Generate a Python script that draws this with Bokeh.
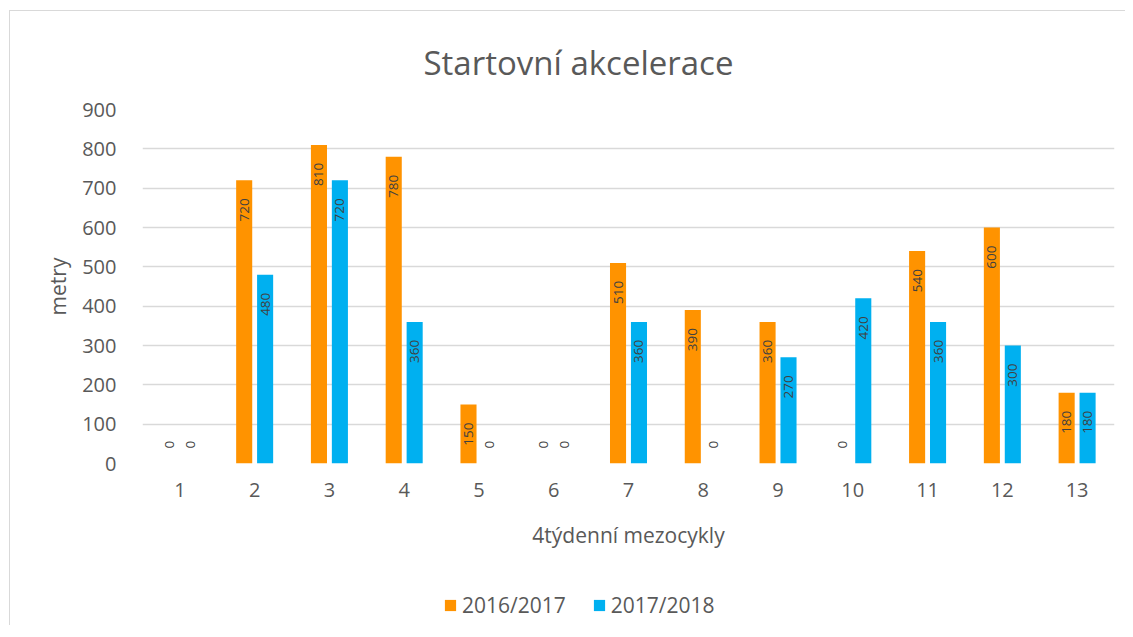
import math
from bokeh.plotting import figure
from bokeh.layouts import column
from bokeh.models import FactorRange, ColumnDataSource, Legend, LegendItem, FixedTicker, Range1d
from bokeh.transform import dodge
from bokeh.core.properties import value
from bokeh.embed import file_html
from bokeh.resources import INLINE

categories = ["1", "2", "3", "4", "5", "6", "7", "8", "9", "10", "11", "12", "13"]
season_2016_2017 = [0, 720, 810, 780, 150, 0, 510, 390, 360, 0, 540, 600, 180]
season_2017_2018 = [0, 480, 720, 360, 0, 0, 360, 0, 270, 420, 360, 300, 180]
series_names = ["2016/2017", "2017/2018"]
y_ticks = [0, 100, 200, 300, 400, 500, 600, 700, 800, 900]

ORANGE = "#FF9300"
BLUE = "#00B0F0"
TXT = "#595959"
LBL = "#404040"
FONT = "Open Sans"

# content starts at page (10, 11): 9/10px margin + 1px border
W, H = 1115, 554
p = figure(width=W, height=H, x_range=FactorRange(factors=categories, range_padding=0),
           y_range=Range1d(0, 900), output_backend="svg", toolbar_location=None,
           min_border_left=132, min_border_right=11, min_border_top=98, min_border_bottom=102)
p.outline_line_color = None
p.background_fill_color = "white"
p.border_fill_color = "white"

# title
p.title.text = "Startovní akcelerace"
p.title.align = "left"
p.title.vertical_align = "top"
p.title.offset = 281
p.title.standoff = 45
p.title.text_font = FONT
p.title.text_font_size = "33px"
p.title.text_font_style = "normal"
p.title.text_color = TXT

src = ColumnDataSource(dict(cat=categories, a=season_2016_2017, b=season_2017_2018))
off = 0.14
bw = 0.215
r1 = p.vbar(x=dodge("cat", -off, range=p.x_range), top="a", width=bw, source=src,
            fill_color=ORANGE, line_color=None)
r2 = p.vbar(x=dodge("cat", off, range=p.x_range), top="b", width=bw, source=src,
            fill_color=BLUE, line_color=None)

# data labels
for vals, o in ((season_2016_2017, -off), (season_2017_2018, off)):
    nz = [(c, v) for c, v in zip(categories, vals) if v != 0]
    z = [(c, v) for c, v in zip(categories, vals) if v == 0]
    s_nz = ColumnDataSource(dict(cat=[c for c, _ in nz], v=[v for _, v in nz], t=[str(v) for _, v in nz]))
    s_z = ColumnDataSource(dict(cat=[c for c, _ in z], v=[v for _, v in z], t=[str(v) for _, v in z]))
    p.text(x=dodge("cat", o, range=p.x_range), y="v", text="t", source=s_nz, angle=math.pi / 2,
           text_align="right", text_baseline="middle", y_offset=18,
           text_font=value(FONT), text_font_size="13.5px", text_color=LBL)
    p.text(x=dodge("cat", o, range=p.x_range), y="v", text="t", source=s_z, angle=math.pi / 2,
           text_align="left", text_baseline="middle", y_offset=-15,
           text_font=value(FONT), text_font_size="13.5px", text_color=LBL)

# axes
p.xaxis.axis_label = "4týdenní mezocykly"
p.yaxis.axis_label = "metry"
for ax in (p.xaxis[0], p.yaxis[0]):
    ax.axis_line_color = None
    ax.major_tick_line_color = None
    ax.minor_tick_line_color = None
    ax.major_tick_out = 0
    ax.major_tick_in = 0
    ax.major_label_text_font = FONT
    ax.major_label_text_font_size = "20px"
    ax.major_label_text_color = TXT
    ax.axis_label_text_font = FONT
    ax.axis_label_text_font_size = "21px"
    ax.axis_label_text_font_style = "normal"
    ax.axis_label_text_color = TXT
p.yaxis.ticker = FixedTicker(ticks=y_ticks)
p.yaxis.major_label_standoff = 26
p.yaxis.axis_label_standoff = 7
p.xaxis.major_label_standoff = 19
p.xaxis.axis_label_standoff = 21

p.xgrid.grid_line_color = None
p.ygrid.grid_line_color = "#d9d9d9"
p.ygrid.grid_line_width = 1.3

# legend in its own strip below the chart (zero-height swatch renderers)
lf = figure(width=W, height=60, x_range=Range1d(0, 1), y_range=Range1d(0, 1),
            x_axis_type=None, y_axis_type=None, output_backend="svg", toolbar_location=None,
            min_border_left=0, min_border_right=0, min_border_top=0, min_border_bottom=0)
lf.outline_line_color = None
lf.grid.grid_line_color = None
lf.border_fill_color = "white"
swatch = ColumnDataSource(dict(x=[0.5], top=[0]))
l1 = lf.vbar(x="x", top="top", width=0.01, source=swatch, fill_color=ORANGE, line_color=None)
l2 = lf.vbar(x="x", top="top", width=0.01, source=swatch, fill_color=BLUE, line_color=None)
legend = Legend(items=[LegendItem(label=series_names[0], renderers=[l1]),
                       LegendItem(label=series_names[1], renderers=[l2])],
                orientation="horizontal", location=(301, 6),
                glyph_width=14, glyph_height=14, label_standoff=5, spacing=26,
                padding=0, margin=0, border_line_color=None, background_fill_alpha=0,
                label_text_font=FONT, label_text_font_size="21px", label_text_color=TXT)
lf.add_layout(legend, "center")

layout = column(p, lf, spacing=0)
layout.styles = {"margin-left": "9px", "margin-top": "10px",
                 "border-left": "1px solid #d9d9d9", "border-top": "1px solid #d9d9d9"}
open("out.html", "w").write(file_html(layout, INLINE))
